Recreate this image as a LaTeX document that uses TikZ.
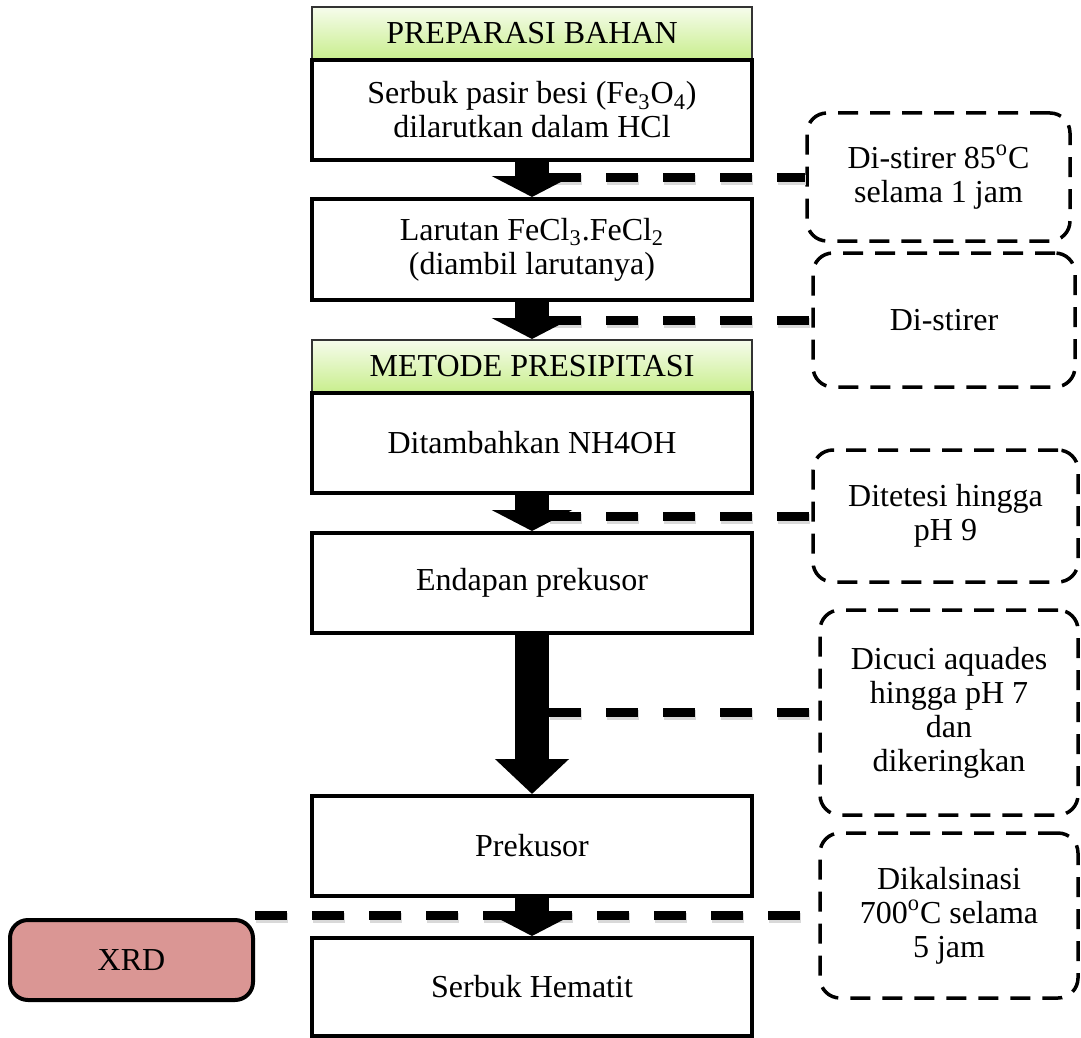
\documentclass[tikz,border=0pt]{standalone}
\usepackage{fontspec}
\setmainfont{Liberation Serif}
\usetikzlibrary{arrows.meta}

\definecolor{hijaumuda}{RGB}{246,252,236}
\definecolor{hijau}{RGB}{200,238,140}
\definecolor{merahmuda}{RGB}{218,150,148}

\tikzset{
  teks/.style={font=\fontsize{16}{17}\selectfont, align=center},
  proses/.style={teks, draw=black, line width=2pt, fill=white,
    minimum width=220pt, minimum height=50pt, inner sep=2pt},
  judul/.style={teks, draw=black!80, line width=1pt,
    top color=hijaumuda, bottom color=hijau,
    minimum width=220pt, minimum height=26.5pt, inner sep=2pt},
  ket/.style={teks, draw=black, line width=1.75pt, dash pattern=on 10pt off 6pt,
    rounded corners=10pt, inner sep=2pt},
  panah/.style={line width=17pt, -{Triangle[width=40pt,length=10.5pt]}},
  garis/.style={line width=4.5pt, dash pattern=on 16pt off 12.5pt,
    preaction={draw=black!15, line width=5pt, dash pattern=on 16pt off 12.5pt,
      transform canvas={shift={(0.5pt,-1.3pt)}}}}
}

\begin{document}
\begin{tikzpicture}[x=0.5pt,y=-0.5pt]
\useasboundingbox (0,0) rectangle (1081,1038);
%% kolom utama
\node[judul] (h1) at (532,33.5) {PREPARASI BAHAN};
\node[proses] (b1) at (532,110) {Serbuk pasir besi (Fe\textsubscript{3}O\textsubscript{4})\\dilarutkan dalam HCl};
\node[proses, minimum height=50.5pt] (b2) at (532,249.5) {Larutan FeCl\textsubscript{3}.FeCl\textsubscript{2}\\(diambil larutanya)};
\node[judul] (h2) at (532,366.5) {METODE PRESIPITASI};
\node[proses] (b3) at (532,443) {Ditambahkan NH4OH};
\node[proses] (b4) at (532,583) {Endapan prekusor};
\node[proses] (b5) at (532,846) {Prekusor};
\node[proses, minimum height=49pt] (b6) at (532,987) {Serbuk Hematit};
%% keterangan (kotak putus-putus)
\node[ket, minimum width=131.5pt, minimum height=64pt] (k1) at (938.5,177) {Di-stirer 85\textsuperscript{o}C\\selama 1 jam};
\node[ket, minimum width=131pt, minimum height=67pt] (k2) at (944,320) {Di-stirer};
\node[ket, minimum width=132.5pt, minimum height=66pt] (k3) at (945.5,516) {Ditetesi hingga\\pH 9};
\node[ket, minimum width=129pt, minimum height=102.5pt] (k4) at (949,712.5) {Dicuci aquades\\hingga pH 7\\dan\\dikeringkan};
\node[ket, minimum width=129pt, minimum height=82.5pt] (k5) at (949,915.5) {Dikalsinasi\\700\textsuperscript{o}C selama\\5 jam};
%% karakterisasi
\node[teks, draw=black, line width=2pt, fill=merahmuda, rounded corners=9pt,
  minimum width=121.5pt, minimum height=40pt] (xrd) at (131.5,960) {XRD};
% tepi kanan batang panah
\coordinate (tepi) at (549,0);
%% garis putus-putus
\draw[garis] (tepi |- k1.west) -- (k1.west);
\draw[garis] (tepi |- k2.west) -- (k2.west);
\draw[garis] (tepi |- k3.west) -- (k3.west);
\draw[garis] (tepi |- k4.west) -- (k4.west);
\draw[garis] (k5.west -| xrd.east) -- (k5.west);
%% panah blok
\draw[panah] (b1.south) -- (b2.north);
\draw[panah] (b2.south) -- (h2.north);
\draw[panah] (b3.south) -- (b4.north);
\draw[line width=17pt, -{Triangle[width=36pt,length=17.5pt]}] (b4.south) -- (b5.north);
\draw[panah] (b5.south) -- (b6.north);
\end{tikzpicture}
\end{document}
